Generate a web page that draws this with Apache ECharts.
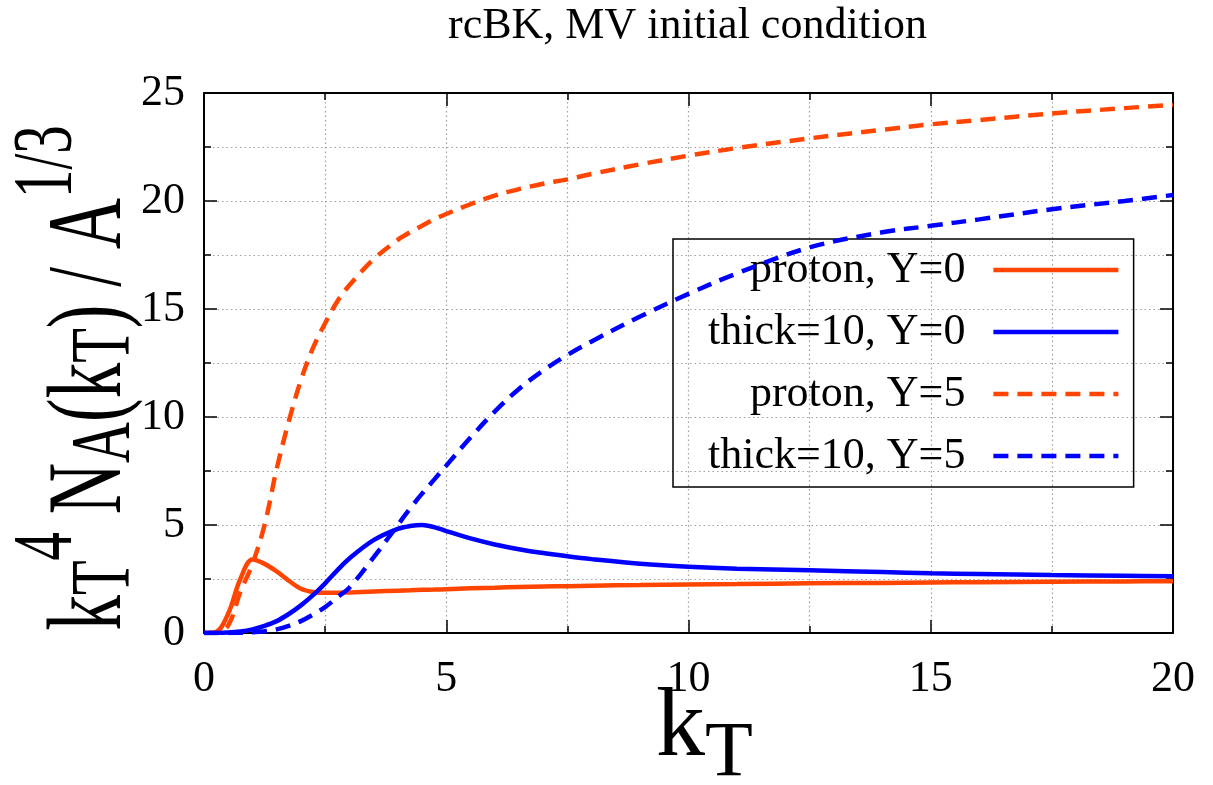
<!DOCTYPE html>
<html>
<head>
<meta charset="utf-8">
<script src="https://cdn.jsdelivr.net/npm/echarts@6/dist/echarts.min.js"></script>
<style>
html,body{margin:0;padding:0;background:#fff;}
#chart{width:1213px;height:785px;}
</style>
</head>
<body>
<div id="chart"></div>
<script>
// ---- Data ----
const kT = [0, 0.25, 0.5, 0.75, 1, 1.25, 1.5, 1.75, 2, 2.25, 2.5, 2.75, 3, 3.5, 4, 4.25, 4.5, 4.75, 5, 5.5, 6, 6.5, 7, 7.5, 8, 9, 10, 11, 12.5, 14, 15, 16, 17.5, 19, 20];
const protonY0 = [0, 0.05, 0.9, 2.5, 3.4, 3.2, 2.85, 2.42, 2.05, 1.9, 1.86, 1.86, 1.88, 1.92, 1.96, 1.98, 2.0, 2.01, 2.03, 2.07, 2.1, 2.13, 2.15, 2.17, 2.19, 2.22, 2.25, 2.27, 2.3, 2.32, 2.34, 2.35, 2.37, 2.39, 2.4];
const thickY0 = [0, 0.0, 0.02, 0.07, 0.17, 0.33, 0.55, 0.88, 1.28, 1.75, 2.3, 2.9, 3.45, 4.3, 4.82, 4.95, 5.0, 4.9, 4.72, 4.38, 4.1, 3.88, 3.7, 3.55, 3.42, 3.21, 3.07, 2.98, 2.9, 2.82, 2.77, 2.73, 2.68, 2.65, 2.63];
const protonY5 = [0, 0, 0.35, 1.9, 3.2, 5.0, 7.6, 9.8, 11.7, 13.2, 14.34, 15.35, 16.1, 17.3, 18.2, 18.55, 18.85, 19.15, 19.4, 19.85, 20.25, 20.55, 20.8, 21.0, 21.25, 21.7, 22.1, 22.45, 22.9, 23.3, 23.55, 23.75, 24.05, 24.3, 24.45];
const thickY5 = [0, 0, 0.0, 0.01, 0.03, 0.08, 0.17, 0.33, 0.55, 0.85, 1.2, 1.65, 2.1, 3.5, 5.0, 5.75, 6.45, 7.1, 7.75, 9.05, 10.25, 11.3, 12.15, 12.87, 13.5, 14.65, 15.7, 16.65, 17.85, 18.55, 18.85, 19.15, 19.62, 20.0, 20.28];
const seriesNames = ['proton, Y=0', 'thick=10, Y=0', 'proton, Y=5', 'thick=10, Y=5'];
const xTicks = [0, 5, 10, 15, 20];
const yTicks = [0, 5, 10, 15, 20, 25];
const titleText = 'rcBK, MV initial condition';
// axis titles as [text, kind] pieces: m = normal, b = subscript, p = superscript
const xTitlePieces = [['k', 'm'], ['T', 'b']];
const yTitlePieces = [['k', 'm'], ['T', 'b'], ['4', 'p'], [' N', 'm'], ['A', 'b'], ['(k', 'm'], ['T', 'b'], [') / A', 'm'], ['1/3', 'p']];

const ORANGE = '#ff4500';
const BLUE = '#0000ff';
const FONT = 'Liberation Serif';

function pairs(ys) { return kT.map((x, i) => [x, ys[i]]); }

// ---- text helper for sub/superscripts ----
const mctx = document.createElement('canvas').getContext('2d');
function textWidth(t, fs) { mctx.font = fs + 'px "' + FONT + '"'; return mctx.measureText(t).width; }
function buildTitle(pieces, fsMain, subDy, supDy, center) {
  const fsSmall = fsMain * 0.8;
  let x = 0;
  const kids = [];
  pieces.forEach(([t, kind]) => {
    const fs = kind === 'm' ? fsMain : fsSmall;
    const dy = kind === 'b' ? subDy : (kind === 'p' ? -supDy : 0);
    kids.push({type: 'text', x: x, y: dy - 0.3375 * fs, silent: true,
      style: {text: t, fontSize: fs, fontFamily: FONT, fill: '#000', align: 'left', verticalAlign: 'middle'}});
    x += textWidth(t, fs);
  });
  if (center) kids.forEach(k => { k.x -= x / 2; });
  return kids;
}

const grid = {color: '#a0a0a0', width: 1.2, type: [1.5, 3]};

function axisCommon(isX, main) {
  const vals = isX ? xTicks : yTicks;
  return {
    type: 'value',
    min: vals[0], max: vals[vals.length - 1], interval: vals[1] - vals[0],
    axisLine: {show: true, onZero: false, lineStyle: {color: '#000', width: 2}},
    axisTick: {show: true, inside: true, length: 13, lineStyle: {color: '#000', width: 1.5}},
    minorTick: {show: true, splitNumber: 2, length: 7, lineStyle: {color: '#000', width: 1.5}},
    splitLine: {show: main, lineStyle: grid},
    minorSplitLine: {show: main, lineStyle: grid},
    axisLabel: {show: main, fontSize: 44, fontFamily: FONT, color: '#000', margin: isX ? 24 : 19}
  };
}

function mkSeries(name, data, color, dashed) {
  return {
    name: name, type: 'line', data: pairs(data), xAxisIndex: 0, yAxisIndex: 0,
    smooth: 0.35, symbol: 'none', showSymbol: false, clip: true, z: 3,
    lineStyle: {color: color, width: 4.5, type: dashed ? [15, 9] : 'solid'},
    itemStyle: {color: color},
    emphasis: {disabled: true}
  };
}

const chart = echarts.init(document.getElementById('chart'), null, {renderer: 'canvas'});
chart.setOption({
  animation: false,
  backgroundColor: '#fff',
  title: {
    text: titleText, left: 448, top: 4, padding: 0,
    textStyle: {fontSize: 44, fontWeight: 'normal', fontFamily: FONT, color: '#000'}
  },
  grid: {left: 204, right: 40, top: 93, bottom: 152, containLabel: false, outerBoundsMode: 'none'},
  xAxis: [Object.assign(axisCommon(true, true), {position: 'bottom'}),
          Object.assign(axisCommon(true, false), {position: 'top'})],
  yAxis: [Object.assign(axisCommon(false, true), {position: 'left'}),
          Object.assign(axisCommon(false, false), {position: 'right'})],
  legend: {
    orient: 'vertical', align: 'right', left: 673, top: 239, z: 1,
    padding: [7, 13, 7, 35], itemGap: 14, itemWidth: 125, itemHeight: 14,
    borderColor: '#000', borderWidth: 1.5, backgroundColor: 'transparent',
    selectedMode: false,
    itemStyle: {opacity: 0},
    lineStyle: {width: 4.5},
    textStyle: {fontSize: 44, fontFamily: FONT, color: '#000', lineHeight: 48, padding: [0, 23, 0, 0]},
    data: seriesNames
  },
  graphic: [
    {type: 'group', x: 656, y: 762, z: 10, silent: true,
     children: buildTitle(xTitlePieces, 98, 19, 40, false)},
    {type: 'group', x: 128, y: 378, rotation: Math.PI / 2, scaleY: 1.5, z: 10, silent: true,
     children: buildTitle(yTitlePieces, 71, 5, 34, true)}
  ],
  series: [
    mkSeries(seriesNames[0], protonY0, ORANGE, false),
    mkSeries(seriesNames[1], thickY0, BLUE, false),
    mkSeries(seriesNames[2], protonY5, ORANGE, true),
    mkSeries(seriesNames[3], thickY5, BLUE, true)
  ]
});
</script>
</body>
</html>
